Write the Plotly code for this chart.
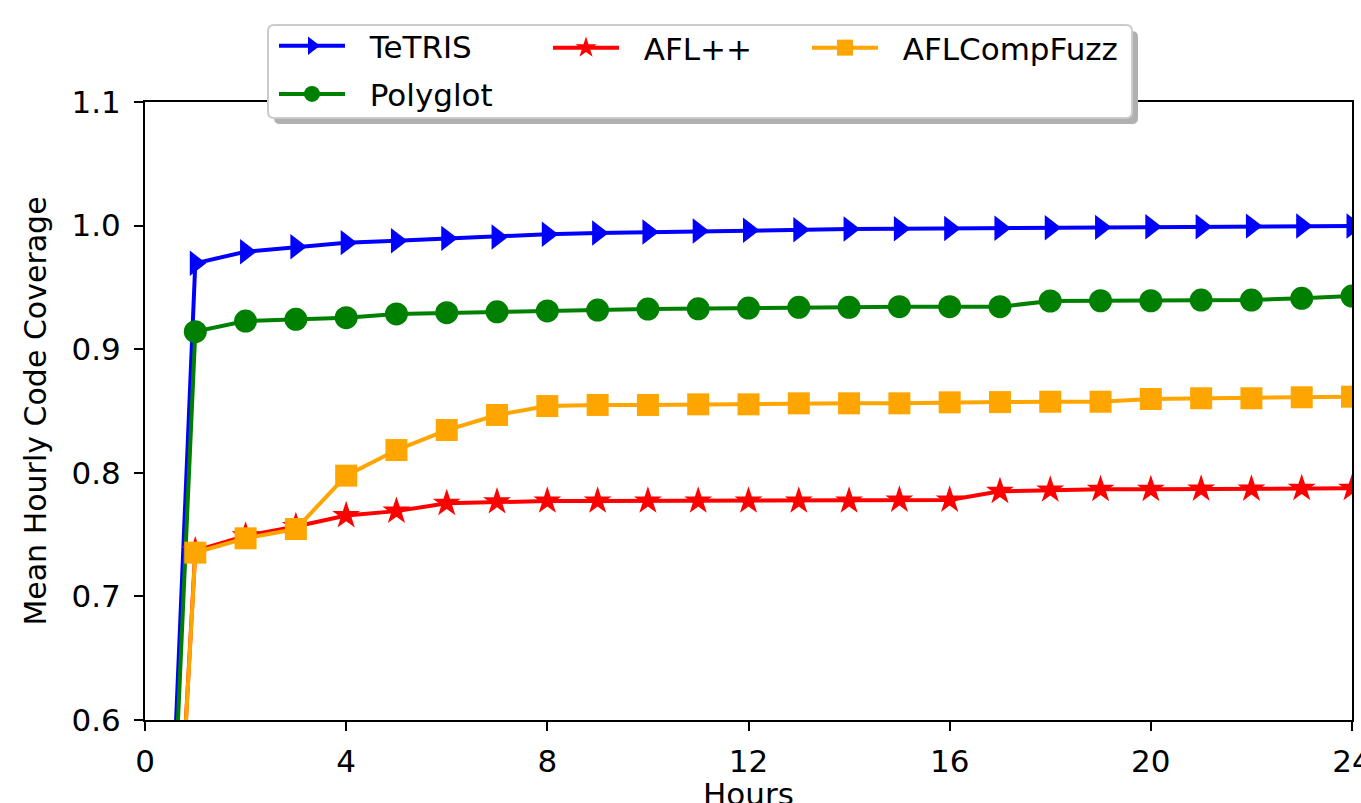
import plotly.graph_objects as go

hours = list(range(0, 25))

tetris = [0.0, 0.9695, 0.9789, 0.9829, 0.9862, 0.9878, 0.9897, 0.9908, 0.9930, 0.9940,
          0.9948, 0.9956, 0.9962, 0.9966, 0.9972, 0.9975, 0.9977, 0.9978, 0.9983, 0.9986,
          0.9991, 0.9991, 0.9996, 0.9997, 0.9997]
polyglot = [0.0, 0.9142, 0.9228, 0.9242, 0.9255, 0.9285, 0.9295, 0.9302, 0.9310, 0.9317,
            0.9325, 0.9327, 0.9333, 0.9339, 0.9339, 0.9344, 0.9344, 0.9344, 0.9390, 0.9392,
            0.9392, 0.9398, 0.9398, 0.9412, 0.9430]
aflpp = [0.0, 0.7370, 0.7490, 0.7565, 0.7654, 0.7690, 0.7753, 0.7766, 0.7772, 0.7772,
         0.7772, 0.7772, 0.7772, 0.7772, 0.7772, 0.7780, 0.7780, 0.7850, 0.7861, 0.7866,
         0.7866, 0.7869, 0.7869, 0.7874, 0.7874]
aflcompfuzz = [0.0, 0.7354, 0.7470, 0.7545, 0.7977, 0.8184, 0.8346, 0.8468, 0.8540, 0.8549,
               0.8549, 0.8554, 0.8554, 0.8562, 0.8562, 0.8562, 0.8570, 0.8572, 0.8575, 0.8575,
               0.8597, 0.8603, 0.8603, 0.8611, 0.8616]

x_ticks = [0, 4, 8, 12, 16, 20, 24]
y_ticks = [0.6, 0.7, 0.8, 0.9, 1.0, 1.1]

FONT = "DejaVu Sans"
W, H = 1361, 803
PL, PR, PT, PB = 145, 1352, 102, 720   # plot area in page pixels
L, T, R, B = PL, PT, W - PR, H - PB
PW, PH = PR - PL, PB - PT


def px(xp):
    return (xp - PL) / PW


def py(yp):
    return (PB - yp) / PH


NB = "\u00a0\u00a0"

series = [
    ("TeTRIS", tetris, "blue", "triangle-right", 22, "legend"),
    ("Polyglot", polyglot, "green", "circle", 23, "legend"),
    ("AFL++", aflpp, "red", "star", 21, "legend2"),
    ("AFLCompFuzz", aflcompfuzz, "orange", "square", 22, "legend3"),
]

fig = go.Figure()
for name, vals, color, sym, size, lg in series:
    fig.add_trace(go.Scatter(
        x=hours, y=vals, name=NB + name, mode="lines+markers",
        line=dict(color=color, width=4),
        marker=dict(symbol=sym, size=size, color=color, line=dict(width=0)),
        legend=lg, legendgroup=name,
    ))


def rounded(x0, y0, x1, y1, r):
    rx, ry = r / PW, r / PH
    X0, X1 = px(x0), px(x1)
    Y0, Y1 = py(y1), py(y0)  # bottom, top in paper
    return (f"M {X0+rx},{Y1} L {X1-rx},{Y1} Q {X1},{Y1} {X1},{Y1-ry} "
            f"L {X1},{Y0+ry} Q {X1},{Y0} {X1-rx},{Y0} L {X0+rx},{Y0} "
            f"Q {X0},{Y0} {X0},{Y0+ry} L {X0},{Y1-ry} Q {X0},{Y1} {X0+rx},{Y1} Z")


shapes = [
    dict(type="path", xref="paper", yref="paper", layer="above",
         path=rounded(274, 31, 1138, 124, 6), fillcolor="#b0b0b0", line=dict(width=0)),
    dict(type="path", xref="paper", yref="paper", layer="above",
         path=rounded(268, 25, 1132, 118, 6), fillcolor="white",
         line=dict(color="#cccccc", width=2)),
]

leg_common = dict(font=dict(family=FONT, size=31, color="black"),
                  bgcolor="rgba(0,0,0,0)", borderwidth=0, itemwidth=66,
                  tracegroupgap=5, xanchor="left", yanchor="middle")

axis_common = dict(showline=True, mirror=True, linecolor="black", linewidth=2,
                   ticks="outside", ticklen=9, tickwidth=2, tickcolor="black",
                   showgrid=False, zeroline=False, ticklabeloverflow="allow",
                   tickfont=dict(family=FONT, size=31, color="black"))

fig.update_layout(
    width=W, height=H,
    margin=dict(l=L, r=R, t=T, b=B, autoexpand=False),
    paper_bgcolor="white", plot_bgcolor="white",
    font=dict(family=FONT, size=31, color="black"),
    showlegend=True,
    legend=dict(x=px(274), y=py(70), **leg_common),
    legend2=dict(x=px(548), y=py(48), **leg_common),
    legend3=dict(x=px(807), y=py(48), **leg_common),
    shapes=shapes,
    annotations=[dict(text="Hours", xref="paper", yref="paper", x=0.5, y=py(794),
                      xanchor="center", yanchor="middle", showarrow=False,
                      font=dict(family=FONT, size=31, color="black"))],
    xaxis=dict(range=[0, 24], tickvals=x_ticks, ticktext=[str(v) for v in x_ticks],
               ticklabelstandoff=4, **axis_common),
    yaxis=dict(range=[0.6, 1.1], tickvals=y_ticks, ticktext=[f"{v:.1f}" for v in y_ticks],
               ticklabelstandoff=7,
               title=dict(text="Mean Hourly Code Coverage", font=dict(family=FONT, size=30),
                          standoff=16),
               **axis_common),
)

fig.write_html(
    "out.html",
    config={"displayModeBar": False},
    post_script="document.body.style.margin='0';document.body.style.overflow='hidden';",
)
